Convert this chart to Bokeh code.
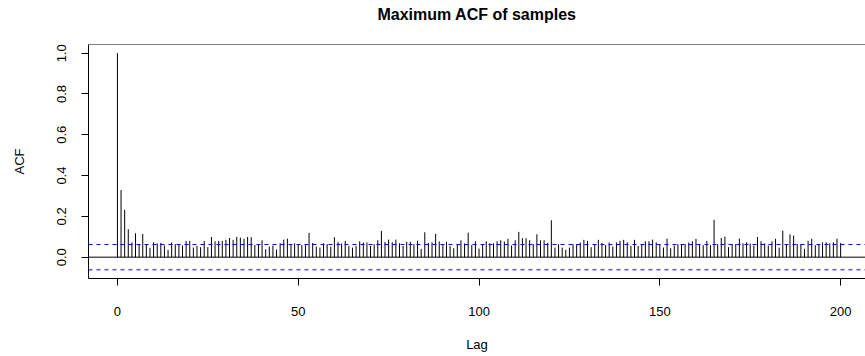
from bokeh.plotting import figure
from bokeh.models import Range1d, FixedTicker, Span
from bokeh.embed import file_html
from bokeh.resources import INLINE

title_text = "Maximum ACF of samples"
x_label = "Lag"
y_label = "ACF"
x_ticks = [0, 50, 100, 150, 200]
y_ticks = [0.0, 0.2, 0.4, 0.6, 0.8, 1.0]
conf_limit = 0.062

acf_0_50 = [1.0, 0.329, 0.232, 0.137, 0.073, 0.117, 0.064, 0.114, 0.064, 0.046,
            0.073, 0.067, 0.070, 0.057, 0.036, 0.072, 0.064, 0.064, 0.057, 0.080,
            0.080, 0.047, 0.055, 0.049, 0.080, 0.049, 0.099, 0.078, 0.080, 0.080,
            0.085, 0.094, 0.085, 0.099, 0.096, 0.090, 0.099, 0.098, 0.060, 0.064,
            0.083, 0.039, 0.052, 0.057, 0.038, 0.068, 0.086, 0.091, 0.064, 0.068,
            0.060]
acf_51_100 = [0.060, 0.059, 0.119, 0.070, 0.052, 0.047, 0.068, 0.064, 0.052, 0.098,
              0.075, 0.067, 0.080, 0.055, 0.047, 0.055, 0.078, 0.072, 0.072, 0.055,
              0.064, 0.083, 0.129, 0.075, 0.086, 0.073, 0.086, 0.068, 0.055, 0.075,
              0.075, 0.064, 0.081, 0.041, 0.122, 0.070, 0.073, 0.114, 0.077, 0.059,
              0.075, 0.055, 0.044, 0.064, 0.083, 0.067, 0.120, 0.060, 0.078, 0.042]
acf_101_150 = [0.060, 0.078, 0.068, 0.068, 0.078, 0.083, 0.077, 0.090, 0.057, 0.083,
               0.124, 0.093, 0.093, 0.083, 0.065, 0.112, 0.083, 0.083, 0.070, 0.181,
               0.047, 0.064, 0.047, 0.036, 0.047, 0.064, 0.064, 0.072, 0.085, 0.080,
               0.049, 0.060, 0.085, 0.070, 0.059, 0.072, 0.052, 0.072, 0.080, 0.085,
               0.073, 0.055, 0.085, 0.055, 0.062, 0.078, 0.078, 0.086, 0.073, 0.062]
acf_151_200 = [0.047, 0.091, 0.044, 0.057, 0.064, 0.064, 0.064, 0.072, 0.078, 0.090,
               0.064, 0.059, 0.080, 0.059, 0.183, 0.064, 0.094, 0.101, 0.049, 0.064,
               0.064, 0.091, 0.068, 0.073, 0.067, 0.057, 0.099, 0.078, 0.068, 0.057,
               0.078, 0.090, 0.047, 0.130, 0.062, 0.112, 0.106, 0.064, 0.064, 0.041,
               0.080, 0.090, 0.059, 0.064, 0.073, 0.073, 0.068, 0.073, 0.091, 0.070]

acf = acf_0_50 + acf_51_100 + acf_101_150 + acf_151_200
lags = list(range(len(acf)))
zeros = [0.0] * len(acf)

FONT = "Liberation Sans"
Y_LO, Y_HI = -0.1045, 1.0425

p = figure(width=865, height=356, output_backend="svg", toolbar_location=None,
           x_range=Range1d(-8, 206.88), y_range=Range1d(Y_LO, Y_HI),
           min_border_left=88, min_border_right=0, min_border_top=44,
           min_border_bottom=78)
p.outline_line_color = None
p.background_fill_color = "white"
p.border_fill_color = "white"
p.xgrid.visible = False
p.ygrid.visible = False

# title
p.title.text = title_text
p.title.align = "center"
p.title.text_font = FONT
p.title.text_font_size = "16px"
p.title.text_font_style = "bold"
p.title.text_color = "black"
p.title.standoff = 0
p.title.padding = dict(top=0, right=0, bottom=22, left=0)

# axes
for ax in (p.xaxis[0], p.yaxis[0]):
    ax.axis_line_color = "black"
    ax.axis_line_width = 1
    ax.major_tick_line_color = "black"
    ax.major_tick_in = 0
    ax.major_tick_out = 7
    ax.minor_tick_line_color = None
    ax.major_label_text_font = FONT
    ax.major_label_text_font_size = "13px"
    ax.major_label_text_color = "black"
    ax.axis_label_text_font = FONT
    ax.axis_label_text_font_size = "13px"
    ax.axis_label_text_font_style = "normal"
    ax.axis_label_text_color = "black"

p.xaxis.ticker = FixedTicker(ticks=x_ticks)
p.yaxis.ticker = FixedTicker(ticks=y_ticks)
p.xaxis.major_label_overrides = {t: str(t) for t in x_ticks}
p.yaxis.major_label_overrides = {t: f"{t:.1f}" for t in y_ticks}
p.xaxis.axis_label = x_label
p.yaxis.axis_label = y_label
p.xaxis.major_label_standoff = 21
p.xaxis.axis_label_standoff = 18
p.yaxis.major_label_orientation = "vertical"
p.yaxis.major_label_standoff = 15
p.yaxis.axis_label_standoff = 28

# top border of box
p.add_layout(Span(location=Y_HI, dimension="width", line_color="black", line_width=1))

# bars
p.segment(x0=lags, y0=zeros, x1=lags, y1=acf, line_color="black", line_width=1)

# zero line and confidence limits (drawn over the bars)
p.add_layout(Span(location=0, dimension="width", line_color="black", line_width=1,
                  level="overlay"))
p.add_layout(Span(location=conf_limit, dimension="width", line_color="blue",
                  line_width=1, line_dash="4 4", level="overlay"))
p.add_layout(Span(location=-conf_limit, dimension="width", line_color="blue",
                  line_width=1, line_dash="4 4", level="overlay"))

open("out.html", "w").write(file_html(p, INLINE))
